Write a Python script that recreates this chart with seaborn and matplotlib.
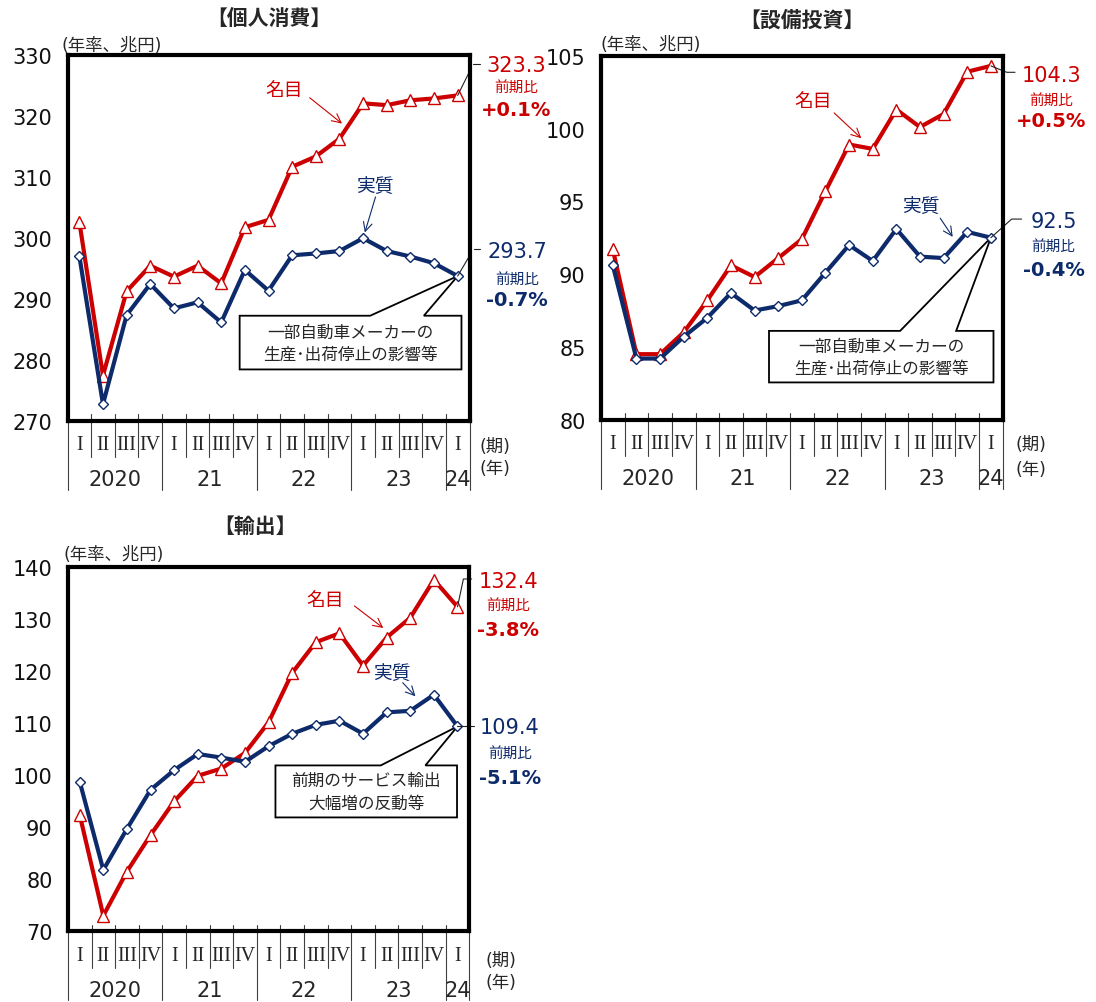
import numpy as np
import pandas as pd
import matplotlib
matplotlib.use("Agg")
import matplotlib.pyplot as plt
import matplotlib.transforms as mtransforms
from matplotlib.patches import Polygon
import seaborn as sns

# ---------------- data ----------------
quarters = ["I", "II", "III", "IV", "I", "II", "III", "IV", "I", "II", "III", "IV",
            "I", "II", "III", "IV", "I"]
years = ["2020", "21", "22", "23", "24"]
quarters_per_year = [4, 4, 4, 4, 1]

cons_nominal = [302.6, 277.4, 291.2, 295.4, 293.6, 295.4, 292.5, 301.7, 302.9,
                311.6, 313.3, 316.2, 322.0, 321.7, 322.5, 322.8, 323.3]
cons_real = [297.0, 272.7, 287.3, 292.4, 288.4, 289.4, 286.1, 294.7, 291.3,
             297.1, 297.4, 297.8, 299.9, 297.8, 296.9, 295.8, 293.7]

inv_nominal = [91.7, 84.5, 84.5, 86.0, 88.2, 90.6, 89.8, 91.1, 92.4,
               95.7, 98.9, 98.6, 101.3, 100.1, 101.0, 103.9, 104.3]
inv_real = [90.6, 84.2, 84.2, 85.7, 87.0, 88.7, 87.5, 87.8, 88.2,
            90.1, 92.0, 90.9, 93.1, 91.2, 91.1, 92.9, 92.5]

exp_nominal = [92.4, 73.0, 81.5, 88.5, 95.0, 99.9, 101.3, 104.3, 110.2,
               119.7, 125.6, 127.3, 121.1, 126.5, 130.3, 137.6, 132.4]
exp_real = [98.8, 81.8, 89.7, 97.2, 101.0, 104.1, 103.4, 102.6, 105.6,
            108.0, 109.7, 110.5, 108.0, 112.1, 112.4, 115.5, 109.4]

cons_pct = ["+0.1%", "-0.7%"]
inv_pct = ["+0.5%", "-0.4%"]
exp_pct = ["-3.8%", "-5.1%"]

# ---------------- style ----------------
sns.set_style("white")
plt.rcParams["font.family"] = ["DejaVu Sans", "Noto Sans CJK JP"]
RED = "#CC0000"
NAVY = "#0D2B6B"
GRID = "#404040"

fig = plt.figure(figsize=(10.96, 10.03), dpi=100)


def draw_panel(ax, nominal, real, pct, spec):
    n = len(quarters)
    idx = np.arange(n)
    df_n = pd.DataFrame({"期": idx, "値": nominal})
    df_r = pd.DataFrame({"期": idx, "値": real})
    sns.lineplot(data=df_n, x="期", y="値", ax=ax, color=RED, linewidth=3,
                 marker="^", markersize=8, markerfacecolor="white",
                 markeredgecolor=RED, markeredgewidth=1.0, zorder=3)
    sns.lineplot(data=df_r, x="期", y="値", ax=ax, color=NAVY, linewidth=3,
                 marker="D", markersize=5.5, markerfacecolor="white",
                 markeredgecolor=NAVY, markeredgewidth=1.0, zorder=4)
    ax.set_xlabel("")
    ax.set_ylabel("")
    ax.set_xlim(-0.5, n - 0.5)
    ax.set_ylim(*spec["ylim"])
    ax.set_yticks(spec["yticks"])
    ax.set_xticks([])
    ax.tick_params(axis="y", length=0, pad=11, labelsize=15, colors="#111111")
    for sp in ax.spines.values():
        sp.set_visible(True)
        sp.set_linewidth(3)
        sp.set_color("black")
        sp.set_zorder(6)

    trans = mtransforms.blended_transform_factory(ax.transData, ax.transAxes)
    # category separators
    year_bounds = np.cumsum([0] + quarters_per_year) - 0.5
    for b in np.arange(-0.5, n, 1.0):
        ybot = -0.19 if np.any(np.isclose(year_bounds, b)) else -0.10
        ax.plot([b, b], [0.018, ybot], transform=trans, color=GRID, lw=0.8,
                clip_on=False, zorder=1)
    for i, q in enumerate(quarters):
        ax.text(i, -0.066, q, transform=trans, ha="center", va="center",
                family="Liberation Serif", fontsize=14.5)
    starts = np.cumsum([0] + quarters_per_year[:-1])
    for y, s, c in zip(years, starts, quarters_per_year):
        ax.text(s + (c - 1) / 2, -0.16, y, transform=trans, ha="center",
                va="center", fontsize=15)
    ax.text(spec["ki"][0], spec["ki"][1], "(期)", transform=ax.transAxes,
            ha="center", va="center", fontsize=12.5)
    ax.text(spec["ki"][0], spec["ki"][2], "(年)", transform=ax.transAxes,
            ha="center", va="center", fontsize=12.5)

    # titles
    ax.text(spec["title_pos"][0], spec["title_pos"][1], spec["title"],
            transform=ax.transAxes, ha="center", va="center", fontsize=15,
            fontweight="bold")
    ax.text(spec["unit_pos"][0], spec["unit_pos"][1], "(年率、兆円)",
            transform=ax.transAxes, ha="left", va="center", fontsize=12.5)

    # series name labels with arrows
    for key, color in (("nom", RED), ("real", NAVY)):
        tx, ty = spec[key + "_name"]
        ax.text(tx, ty, "名目" if key == "nom" else "実質", color=color,
                ha="center", va="center", fontsize=13.5)
        (x0, y0), (x1, y1) = spec[key + "_arrow"]
        ax.annotate("", xy=(x1, y1), xytext=(x0, y0),
                    arrowprops=dict(arrowstyle="->", color=color, lw=0.8,
                                    mutation_scale=16), zorder=5)

    # right-side value labels
    for series, p, key, color in ((nominal, pct[0], "nom", RED),
                                  (real, pct[1], "real", NAVY)):
        lx, ly_val, ly_q, ly_p = spec[key + "_lab"]
        ax.text(lx, ly_val, f"{series[-1]:.1f}", color=color, ha="center",
                va="center", fontsize=15, clip_on=False)
        ax.text(lx, ly_q, "前期比", color=color, ha="center", va="center",
                fontsize=10.5, clip_on=False)
        ax.text(lx, ly_p, p, color=color, ha="center", va="center",
                fontsize=14, fontweight="bold", clip_on=False)
        for seg in spec[key + "_leader"]:
            pts = [(n - 1, series[-1]) if s is None else s for s in seg]
            xs, ys = zip(*pts)
            ax.plot(xs, ys, color="#222222", lw=0.8, clip_on=False, zorder=5)

    # callout box
    x0, x1, yb, yt, wa, wb = spec["box"]
    apex = (n - 1, real[-1])
    poly = [(x0, yt), (wa, yt), apex, (wb, yt), (x1, yt), (x1, yb), (x0, yb)]
    ax.add_patch(Polygon(poly, closed=True, facecolor="white",
                         edgecolor="black", lw=1.3, zorder=2.5))
    ax.text((x0 + x1) / 2, (yb + yt) / 2, spec["box_text"], ha="center",
            va="center", fontsize=12, linespacing=1.3, zorder=5)


W, H = 1096, 1003


def add_axes(left, right, top, bottom):
    return fig.add_axes([left / W, 1 - bottom / H, (right - left) / W,
                         (bottom - top) / H])


ax1 = add_axes(67.5, 469.5, 55.5, 421.7)
ax2 = add_axes(601, 1002.7, 56.7, 420.7)
ax3 = add_axes(67.9, 469.3, 568.3, 932.3)

spec1 = dict(
    ylim=(270, 330), yticks=np.arange(270, 331, 10),
    title="【個人消費】", title_pos=(0.5, 1.10), unit_pos=(-0.015, 1.027),
    ki=(1.064, -0.07, -0.13),
    nom_name=(8.67, 324.3), nom_arrow=((9.65, 323.2), (11.2, 318.4)),
    real_name=(12.5, 308.6), real_arrow=((12.56, 307.1), (12.04, 300.4)),
    nom_lab=(18.47, 328.2, 324.8, 321.0),
    nom_leader=[[None, (16.5, 327.2)], [(16.65, 328.5), (16.93, 328.5)]],
    real_lab=(18.51, 297.8, 293.3, 289.9),
    real_leader=[[None, (16.5, 297.0)], [(16.68, 298.1), (16.95, 298.1)]],
    box=(6.78, 16.16, 278.4, 287.2, 12.3, 14.57),
    box_text="一部自動車メーカーの\n生産･出荷停止の影響等",
)
spec2 = dict(
    ylim=(80, 105), yticks=np.arange(80, 106, 5),
    title="【設備投資】", title_pos=(0.5, 1.10), unit_pos=(0.0, 1.032),
    ki=(1.07, -0.067, -0.135),
    nom_name=(8.46, 101.9), nom_arrow=((9.28, 101.2), (10.6, 99.2)),
    real_name=(13.05, 94.74), real_arrow=((13.79, 94.0), (14.45, 92.4)),
    nom_lab=(18.55, 103.67, 102.03, 100.54),
    nom_leader=[[None, (16.67, 103.86), (17.02, 103.86)]],
    real_lab=(18.65, 93.67, 91.95, 90.35),
    real_leader=[[None, (16.88, 93.78), (17.3, 93.78)]],
    box=(6.61, 16.11, 82.56, 86.1, 12.16, 14.53),
    box_text="一部自動車メーカーの\n生産･出荷停止の影響等",
)
spec3 = dict(
    ylim=(70, 140), yticks=np.arange(70, 141, 10),
    title="【輸出】", title_pos=(0.466, 1.113), unit_pos=(-0.01, 1.037),
    ki=(1.08, -0.08, -0.14),
    nom_name=(10.4, 133.9), nom_arrow=((11.54, 132.9), (12.95, 128.0)),
    real_name=(13.2, 119.8), real_arrow=((13.6, 118.2), (14.3, 114.8)),
    nom_lab=(18.15, 137.4, 132.9, 128.1),
    nom_leader=[[None, (16.25, 137.75), (16.6, 137.75)]],
    real_lab=(18.22, 109.2, 104.4, 99.6),
    real_leader=[[None, (16.7, 109.4)]],
    box=(8.29, 15.98, 91.9, 101.9, 12.75, 14.64),
    box_text="前期のサービス輸出\n大幅増の反動等",
)

draw_panel(ax1, cons_nominal, cons_real, cons_pct, spec1)
draw_panel(ax2, inv_nominal, inv_real, inv_pct, spec2)
draw_panel(ax3, exp_nominal, exp_real, exp_pct, spec3)

fig.savefig("out.png", dpi=100, facecolor="white")
